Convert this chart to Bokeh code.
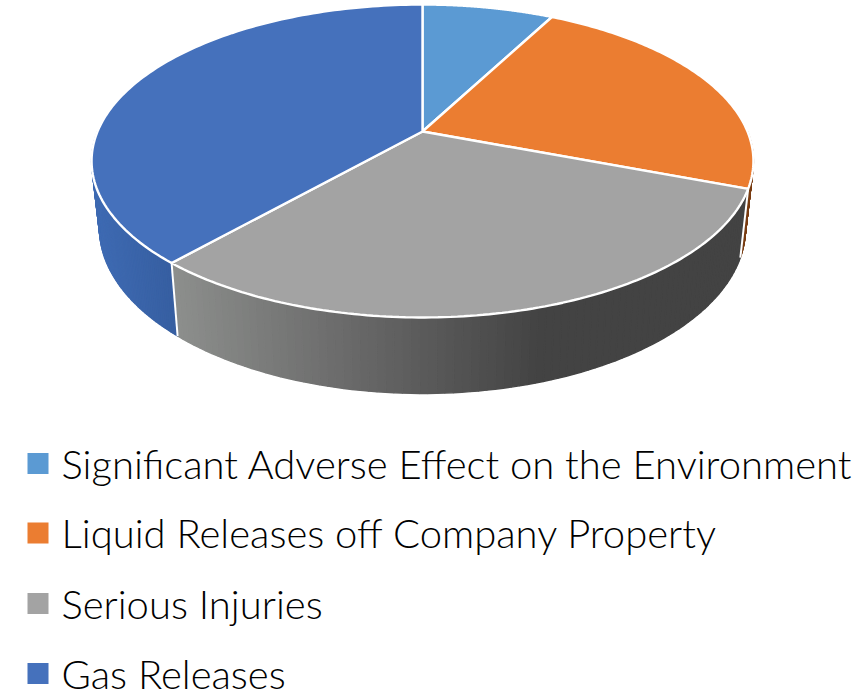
import numpy as np
from bokeh.plotting import figure
from bokeh.core.properties import value
from bokeh.embed import file_html
from bokeh.resources import INLINE

categories = ["Significant Adverse Effect on the Environment",
              "Liquid Releases off Company Property",
              "Serious Injuries",
              "Gas Releases"]
counts = [2, 6, 8, 10]
top_colors = ["#5B9AD3", "#EB7D31", "#A3A3A3", "#4571BC"]

W, H = 864, 700
p = figure(width=W, height=H, x_range=(0, W), y_range=(H, 0),
           output_backend="svg", toolbar_location=None, min_border=0)
p.xaxis.visible = False
p.yaxis.visible = False
p.grid.visible = False
p.outline_line_color = None
p.background_fill_color = None
p.border_fill_color = None

CX, CY = 422.0, 131.0
K, RX, RY = 0.1885, 325.0, 150.9


def rim(theta):
    u, v = np.sin(theta), -np.cos(theta)
    d = 1 - K * v
    return CX + RX * u / d, CY + RY * v / d


def lower(x, y):
    return CX + (x - CX) * 0.976, CY + 65.6 + (y - CY) * 1.056


def mix(x, xs, colors):
    c = [np.interp(x, xs, [col[i] for col in colors]) for i in range(3)]
    return "#%02x%02x%02x" % tuple(int(round(a)) for a in c)


total = sum(counts)
edges = 2 * np.pi * np.concatenate([[0], np.cumsum(counts)]) / total

# side walls, thin quads from back to front
wall_shades = {
    1: ([700, 760], [(122, 62, 20), (122, 62, 20)]),
    2: ([175, 350, 540, 745], [(140, 142, 140), (105, 105, 105), (67, 67, 67), (67, 67, 67)]),
    3: ([95, 175], [(62, 106, 178), (54, 94, 160)]),
}
wx, wy, wc = [], [], []
for idx, (xs, cols) in wall_shades.items():
    a0, a1 = edges[idx], edges[idx + 1]
    if idx == 1:
        a0 = np.pi / 2
    if idx == 3:
        a1 = 1.5 * np.pi
    t = np.linspace(a0, a1, 90)
    xa, ya = rim(t)
    xb, yb = lower(xa, ya)
    for i in range(len(t) - 1):
        wx.append([xa[i], xa[i + 1], xb[i + 1], xb[i]])
        wy.append([ya[i], ya[i + 1], yb[i + 1], yb[i]])
        wc.append(mix((xa[i] + xa[i + 1]) / 2, xs, cols))
p.patches(wx, wy, fill_color=wc, line_color=wc, line_width=1.4)

# white seams where walls meet
for a in (edges[2], edges[3]):
    xa, ya = rim(np.array([a]))
    xb, yb = lower(xa, ya)
    p.line([xa[0], xb[0]], [ya[0], yb[0]], line_color="white", line_width=2)

# top face
for i, col in enumerate(top_colors):
    t = np.linspace(edges[i], edges[i + 1], 120)
    x, y = rim(t)
    p.patch(np.r_[CX, x, CX], np.r_[CY, y, CY], fill_color=col,
            line_color="white", line_width=2.4)

# legend
legend_y = [463, 532.5, 603, 673]
p.scatter([37.5] * 4, legend_y, marker="square", size=21, fill_color=top_colors, line_color=None)
p.text([61] * 4, legend_y, text=categories, text_font=value("Lato Light"),
       text_font_size="40px", text_color="#000000", text_baseline="middle", text_align="left")

open("out.html", "w").write(file_html(p, INLINE))
